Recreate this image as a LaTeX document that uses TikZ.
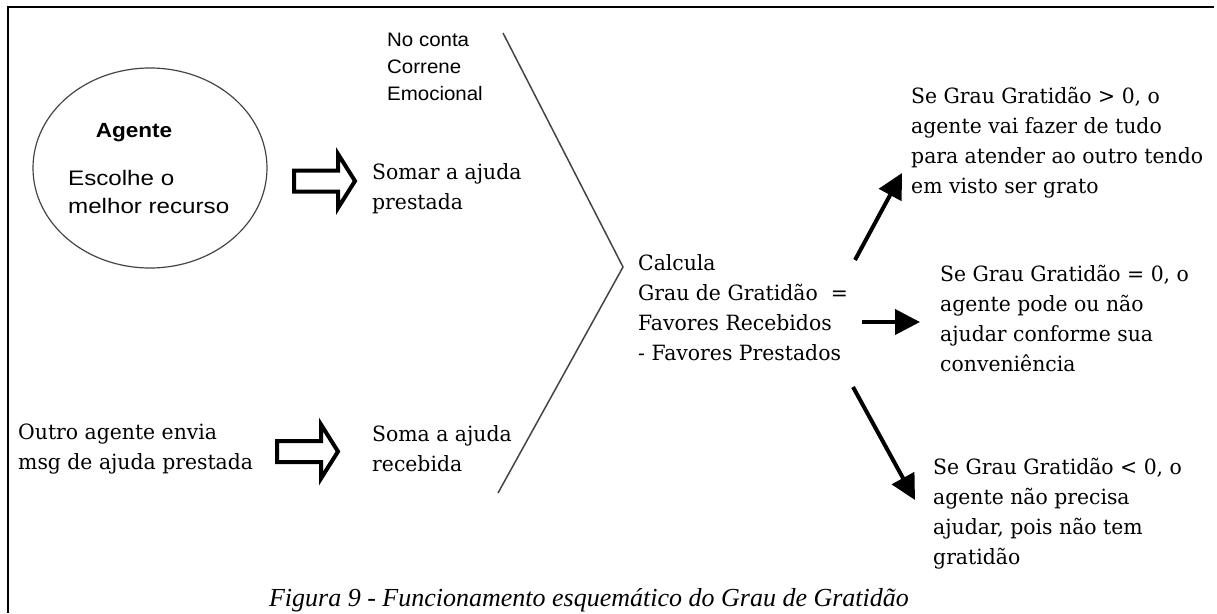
\documentclass[tikz,border=0pt]{standalone}
\usepackage{fontspec}
\setmainfont{DejaVu Serif}
\newfontfamily\sansf[FakeStretch=1.15]{Liberation Sans}
\newfontfamily\sansb[FakeStretch=1.1]{Liberation Sans}
\newfontfamily\sanss[FakeStretch=1.05]{Liberation Sans}
\newfontfamily\serf[FakeStretch=0.97]{DejaVu Serif}
\newfontfamily\capf{Liberation Serif}
\usetikzlibrary{arrows.meta,shapes.geometric}
\definecolor{linegray}{HTML}{444444}
\tikzset{
  sertext/.style={font=\serf\fontsize{21}{30}\selectfont, align=left, inner sep=0pt, anchor=west},
  sansbig/.style={font=\sansf\fontsize{21}{28}\selectfont, align=left, inner sep=0pt, anchor=west},
  sanssmall/.style={font=\sanss\fontsize{19.5}{27}\selectfont, align=left, inner sep=0pt, anchor=west},
  blockarrow/.style={draw=black, fill=white, line width=4pt, line join=miter},
  thickarrow/.style={line width=4pt, -{Triangle[length=25pt,width=25pt]}},
}
\begin{document}
\begin{tikzpicture}[x=1pt,y=-1pt]
\useasboundingbox (0,0) rectangle (1217,613);
% frame
\draw[line width=2pt] (1214,7) -- (8,7) -- (8,613);
% agent ellipse
\node[draw=linegray, line width=1.2pt, ellipse, minimum width=234pt, minimum height=200pt, inner sep=0pt] (agente) at (150,168) {};
\node[font=\sansb\bfseries\fontsize{20.5}{24}\selectfont, inner sep=0pt] (agtitle) at (134,133) {Agente};
\node[sansbig] (escolhe) at (68,192) {Escolhe o\\melhor recurso};
% top label
\node[sanssmall] (conta) at (387,67) {No conta\\Correne\\Emocional};
% block arrows
\draw[blockarrow] (294,170.5) -- (338,170.5) -- (338,154) -- (355,181) -- (338,208) -- (338,191.5) -- (294,191.5) -- cycle;
\draw[blockarrow] (277,441) -- (321,441) -- (321,424.5) -- (338,451.5) -- (321,478.5) -- (321,462) -- (277,462) -- cycle;
% texts
\node[sertext] (somar) at (372,189) {Somar a ajuda\\prestada};
\node[sertext] (outro) at (18,449) {Outro agente envia\\msg de ajuda prestada};
\node[sertext] (soma) at (372,449) {Soma a ajuda\\recebida};
% chevron
\coordinate (chtop) at (503,33);
\coordinate (chtip) at (623,267);
\coordinate (chbot) at (498,493);
\draw[linegray, line width=1.5pt] (chtop) -- (chtip) -- (chbot);
% calc
\node[sertext] (calc) at (638,308) {Calcula\\Grau de Gratidão\ \ =\\Favores Recebidos\\- Favores Prestados};
% results
\node[sertext] (gt) at (911,143) {Se Grau Gratidão > 0, o\\agente vai fazer de tudo\\para atender ao outro tendo\\em visto ser grato};
\node[sertext] (eq) at (940,318) {Se Grau Gratidão = 0, o\\agente pode ou não\\ajudar conforme sua\\conveniência};
\node[sertext] (lt) at (933,514) {Se Grau Gratidão < 0, o\\agente não precisa\\ajudar, pois não tem\\gratidão};
% arrows
\coordinate (a1s) at (855,260);
\coordinate (a1e) at (902,173);
\coordinate (a2s) at (862,322);
\coordinate (a2e) at (920,322);
\coordinate (a3s) at (853,387);
\coordinate (a3e) at (915,500);
\draw[thickarrow] (a1s) -- (a1e);
\draw[thickarrow] (a2s) -- (a2e);
\draw[thickarrow] (a3s) -- (a3e);
% caption
\node[font=\capf\itshape\fontsize{26}{30}\selectfont, inner sep=0pt, anchor=base] (caption) at (589,606) {Figura 9 - Funcionamento esquemático do Grau de Gratidão};
\end{tikzpicture}
\end{document}
